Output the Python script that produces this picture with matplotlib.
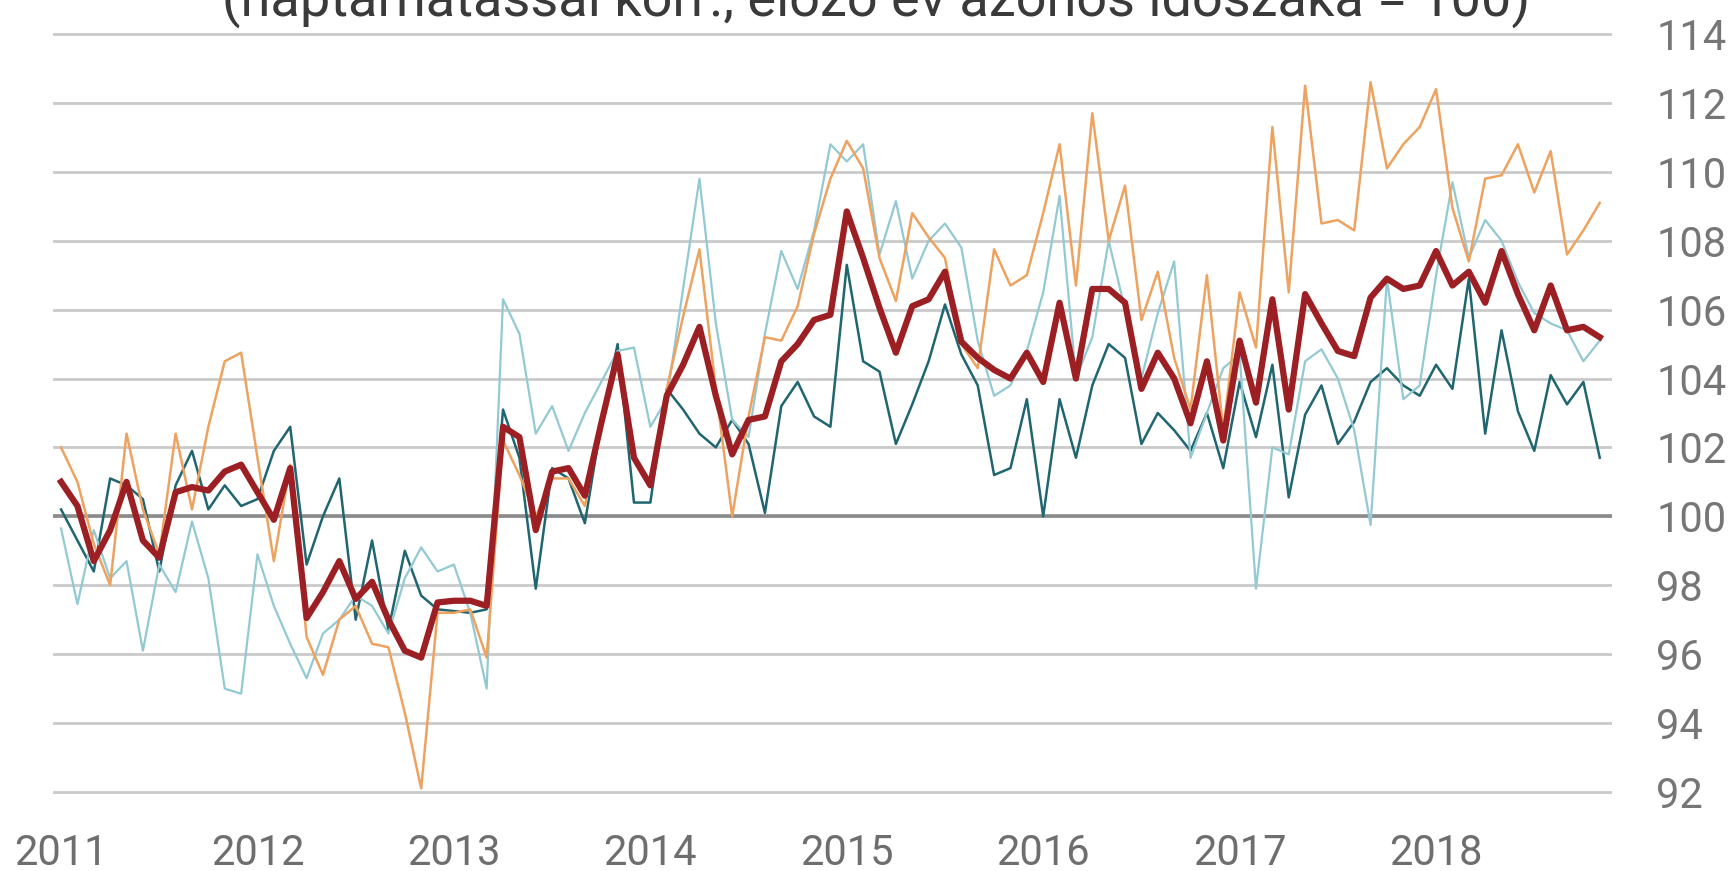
import numpy as np
import matplotlib
matplotlib.use("Agg")
import matplotlib.pyplot as plt

plt.rcParams['font.family'] = ['Roboto', 'DejaVu Sans']

# havi adatok 2011 jan - 2018 nov
fo_index = [101.0, 100.3, 98.7, 99.6, 101.0, 99.3, 98.8, 100.7, 100.85, 100.75, 101.3, 101.5,
            100.7, 99.9, 101.4, 97.05, 97.8, 98.7, 97.6, 98.1, 97.0, 96.1, 95.9, 97.5,
            97.55, 97.55, 97.4, 102.6, 102.3, 99.6, 101.3, 101.4, 100.6, 102.7, 104.7, 101.7,
            100.9, 103.5, 104.4, 105.5, 103.5, 101.8, 102.8, 102.9, 104.5, 105.0, 105.7, 105.85,
            108.85, 107.5, 106.05, 104.75, 106.1, 106.3, 107.1, 105.07, 104.6, 104.25, 104.0, 104.75,
            103.9, 106.2, 104.0, 106.6, 106.6, 106.2, 103.7, 104.75, 104.0, 102.7, 104.5, 102.2,
            105.1, 103.3, 106.3, 103.1, 106.45, 105.6, 104.8, 104.65, 106.35, 106.9, 106.6, 106.7,
            107.7, 106.7, 107.1, 106.2, 107.7, 106.45, 105.4, 106.7, 105.4, 105.5, 105.2]

narancs = [102.0, 101.0, 99.2, 98.0, 102.4, 100.2, 98.9, 102.4, 100.2, 102.6, 104.5, 104.75,
           101.7, 98.7, 101.5, 96.5, 95.4, 97.0, 97.4, 96.3, 96.2, 94.3, 92.1, 97.2,
           97.2, 97.3, 95.9, 102.2, 101.2, 100.0, 101.1, 101.1, 100.3, 102.7, 104.6, 101.7,
           100.9, 103.7, 105.8, 107.75, 103.7, 100.0, 102.9, 105.2, 105.1, 106.1, 108.2, 109.8,
           110.9, 110.1, 107.5, 106.25, 108.8, 108.1, 107.5, 105.0, 104.3, 107.75, 106.7, 107.0,
           108.8, 110.8, 106.7, 111.7, 108.0, 109.6, 105.7, 107.1, 104.6, 103.1, 107.0, 102.5,
           106.5, 104.9, 111.3, 106.5, 112.5, 108.5, 108.6, 108.3, 112.6, 110.1, 110.8, 111.3,
           112.4, 108.95, 107.4, 109.8, 109.9, 110.8, 109.4, 110.6, 107.6, 108.3, 109.1]

vilagoskek = [99.65, 97.45, 99.6, 98.2, 98.7, 96.1, 98.6, 97.8, 99.85, 98.2, 95.0, 94.85,
              98.9, 97.4, 96.3, 95.3, 96.6, 97.0, 97.7, 97.4, 96.6, 98.2, 99.1, 98.4,
              98.6, 97.2, 95.0, 106.3, 105.3, 102.4, 103.2, 101.9, 103.0, 103.9, 104.8, 104.9,
              102.6, 103.4, 106.6, 109.8, 105.6, 102.8, 102.3, 105.3, 107.7, 106.6, 108.3, 110.8,
              110.3, 110.8, 107.6, 109.15, 106.9, 108.0, 108.5, 107.8, 105.1, 103.5, 103.8, 104.8,
              106.5, 109.3, 104.0, 105.2, 108.0, 106.0, 104.0, 105.9, 107.4, 101.7, 103.0, 104.3,
              104.7, 97.9, 102.0, 101.8, 104.5, 104.85, 104.0, 102.5, 99.75, 106.9, 103.4, 103.8,
              107.0, 109.7, 107.5, 108.6, 108.0, 106.8, 105.9, 105.6, 105.4, 104.5, 105.1]

sotetkek = [100.2, 99.3, 98.4, 101.1, 100.9, 100.5, 98.4, 100.9, 101.9, 100.2, 100.9, 100.3,
            100.5, 101.9, 102.6, 98.6, 100.0, 101.1, 97.0, 99.3, 96.7, 99.0, 97.7, 97.3,
            97.25, 97.2, 97.3, 103.1, 101.7, 97.9, 101.4, 101.1, 99.8, 102.7, 105.0, 100.4,
            100.4, 103.7, 103.1, 102.4, 102.0, 102.8, 102.1, 100.1, 103.2, 103.9, 102.9, 102.6,
            107.3, 104.5, 104.2, 102.1, 103.25, 104.5, 106.15, 104.7, 103.8, 101.2, 101.4, 103.4,
            100.0, 103.4, 101.7, 103.8, 105.0, 104.6, 102.1, 103.0, 102.5, 101.9, 103.0, 101.4,
            103.9, 102.3, 104.4, 100.55, 102.95, 103.8, 102.1, 102.75, 103.9, 104.3, 103.8, 103.5,
            104.4, 103.7, 106.9, 102.4, 105.4, 103.05, 101.9, 104.1, 103.25, 103.9, 101.7]

evek = ['2011', '2012', '2013', '2014', '2015', '2016', '2017', '2018']
y_ticks = [92, 94, 96, 98, 100, 102, 104, 106, 108, 110, 112, 114]

honap = np.arange(len(fo_index))

fig = plt.figure(figsize=(17.33, 8.71), dpi=100)
ax = fig.add_axes([0.0306, 0.0868, 0.8996, 0.8781])

ax.plot(honap, sotetkek, color='#1f6670', lw=1.8, zorder=3)
ax.plot(honap, vilagoskek, color='#93c9d3', lw=1.6, zorder=3)
ax.plot(honap, narancs, color='#eea25f', lw=1.8, zorder=3)
ax.plot(honap, fo_index, color='#9c1f24', lw=4.5, zorder=4)

ax.axhline(100, color='#8a8a8a', lw=2.6, zorder=2)

ax.set_xlim(-0.49, 94.75)
ax.set_ylim(91.9, 114.1)
ax.set_yticks(y_ticks)
ax.set_xticks(np.arange(len(evek)) * 12)
ax.set_xticklabels(evek)

ax.yaxis.tick_right()
ax.yaxis.grid(True, color='#cacaca', lw=2)
ax.set_axisbelow(True)
for s in ax.spines.values():
    s.set_visible(False)

ax.tick_params(axis='y', length=0, pad=32, labelsize=30, labelcolor='#767676')
ax.tick_params(axis='x', length=0, pad=27, labelsize=30, labelcolor='#6e6e6e')

# a cím teteje a képen kívül esik, mint az eredetin
fig.text(876 / 1733, 1 - 16 / 871, '(naptárhatással korr., előző év azonos időszaka = 100)',
         ha='center', va='baseline', fontsize=39, color='#3a3a3a')

fig.savefig('out.png', dpi=100)
